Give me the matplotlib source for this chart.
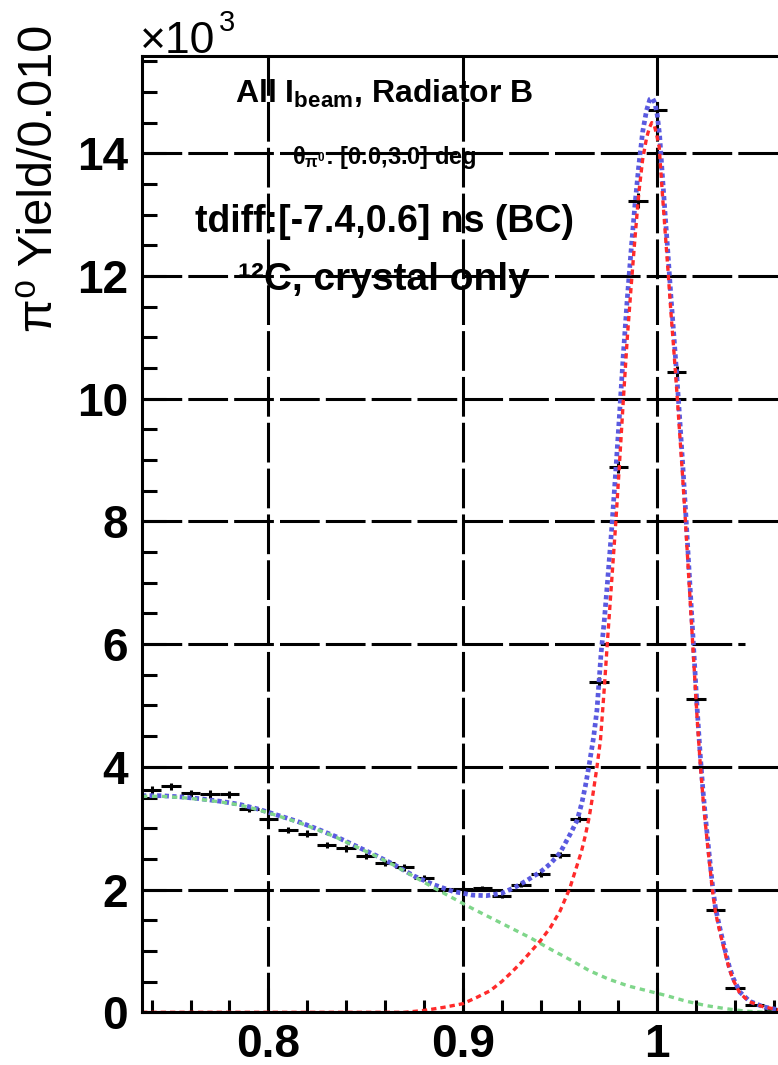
import matplotlib
matplotlib.use("Agg")
import matplotlib.pyplot as plt
from matplotlib.ticker import MultipleLocator

plt.rcParams['font.family'] = ['Liberation Sans', 'DejaVu Sans']
plt.rcParams['mathtext.fontset'] = 'custom'
plt.rcParams['mathtext.rm'] = 'Liberation Sans:bold'
plt.rcParams['mathtext.bf'] = 'Liberation Sans:bold'
plt.rcParams['mathtext.it'] = 'Liberation Sans:bold:italic'
plt.rcParams['mathtext.sf'] = 'Liberation Sans:bold'
plt.rcParams['mathtext.default'] = 'rm'

# ---------------- data (values in units of 10^3) ----------------
bin_centers = [0.74, 0.75, 0.76, 0.77, 0.78, 0.79, 0.80, 0.81, 0.82, 0.83, 0.84,
               0.85, 0.86, 0.87, 0.88, 0.89, 0.90, 0.91, 0.92, 0.93, 0.94, 0.95,
               0.96, 0.97, 0.98, 0.99, 1.00, 1.01, 1.02, 1.03, 1.04, 1.05, 1.06]
yields = [3.62, 3.68, 3.57, 3.56, 3.55, 3.32, 3.15, 2.97, 2.91, 2.73, 2.67,
          2.55, 2.43, 2.36, 2.19, 2.01, 2.01, 2.02, 1.90, 2.08, 2.25, 2.56,
          3.15, 5.39, 8.89, 13.23, 14.70, 10.44, 5.10, 1.66, 0.40, 0.12, 0.05]
yield_err = [0.06, 0.06, 0.06, 0.06, 0.06, 0.06, 0.055, 0.055, 0.055, 0.05, 0.05,
             0.05, 0.05, 0.05, 0.045, 0.045, 0.045, 0.045, 0.045, 0.045, 0.05, 0.05,
             0.055, 0.075, 0.095, 0.115, 0.13, 0.10, 0.07, 0.04, 0.02, 0.01, 0.01]
bin_half_width = 0.005

# background (green)
bkg_x = [0.735, 0.745, 0.755, 0.765, 0.775, 0.785, 0.795, 0.805, 0.815, 0.825,
         0.835, 0.845, 0.855, 0.865, 0.875, 0.885, 0.895, 0.905, 0.915, 0.925,
         0.935, 0.945, 0.955, 0.965, 0.975, 0.985, 0.995, 1.005, 1.015, 1.025,
         1.035, 1.045, 1.055, 1.065]
bkg_y = [3.52, 3.52, 3.50, 3.47, 3.43, 3.38, 3.30, 3.20, 3.10, 2.98,
         2.85, 2.70, 2.55, 2.39, 2.21, 2.03, 1.86, 1.69, 1.53, 1.37,
         1.21, 1.03, 0.86, 0.68, 0.54, 0.43, 0.35, 0.27, 0.18, 0.11,
         0.06, 0.02, 0.00, 0.00]

# signal (red)
sig_x = [0.735, 0.800, 0.870, 0.880, 0.890, 0.900, 0.907, 0.914, 0.920, 0.925,
         0.930, 0.935, 0.940, 0.945, 0.950, 0.955, 0.9585, 0.961, 0.963, 0.965,
         0.967, 0.969, 0.9708, 0.9728, 0.9745, 0.9765, 0.9785, 0.9805, 0.9825, 0.9845,
         0.9865, 0.9885, 0.9905, 0.9925, 0.9945, 0.9960, 0.9972, 0.9985, 0.9997, 1.0010,
         1.0025, 1.0040, 1.0055, 1.0070, 1.0085, 1.0100, 1.0115, 1.0130, 1.0145, 1.0160,
         1.0175, 1.0190, 1.0205, 1.0220, 1.0235, 1.0250, 1.0265, 1.0285, 1.0300, 1.0325,
         1.0350, 1.0370, 1.0390, 1.0425, 1.0475, 1.0545, 1.0625]
sig_y = [0.0, 0.0, 0.0, 0.03, 0.08, 0.14, 0.24, 0.35, 0.50, 0.65,
         0.81, 0.99, 1.17, 1.38, 1.65, 2.02, 2.37, 2.62, 2.88, 3.18,
         3.57, 4.00, 4.44, 5.30, 6.10, 7.00, 7.90, 8.90, 9.95, 10.95,
         11.80, 12.60, 13.35, 13.90, 14.25, 14.42, 14.50, 14.45, 14.30, 14.10,
         13.40, 12.75, 12.10, 11.42, 10.80, 10.15, 9.45, 8.75, 8.00, 7.20,
         6.40, 5.60, 4.80, 4.10, 3.50, 3.00, 2.54, 1.96, 1.62, 1.27,
         0.95, 0.71, 0.53, 0.31, 0.17, 0.09, 0.04]

# total fit (blue)
tot_x = [0.735, 0.745, 0.755, 0.765, 0.775, 0.785, 0.795, 0.805, 0.815, 0.825,
         0.835, 0.845, 0.855, 0.865, 0.875, 0.885, 0.895, 0.905, 0.912, 0.920,
         0.927, 0.933, 0.940, 0.945, 0.950, 0.9555, 0.9588, 0.9612, 0.963, 0.9648,
         0.9673, 0.969, 0.9711, 0.9728, 0.9745, 0.9765, 0.9785, 0.9805, 0.9825, 0.9845,
         0.9865, 0.9885, 0.9905, 0.9925, 0.9945, 0.9962, 0.9975, 0.9988, 1.0000, 1.0012,
         1.0025, 1.0040, 1.0055, 1.0070, 1.0085, 1.0100, 1.0115, 1.0130, 1.0145, 1.0160,
         1.0175, 1.0190, 1.0205, 1.0220, 1.0235, 1.0250, 1.0265, 1.0285, 1.0300, 1.0325,
         1.0350, 1.0370, 1.0390, 1.0425, 1.0475, 1.0545, 1.0625]
tot_y = [3.53, 3.53, 3.51, 3.48, 3.44, 3.39, 3.31, 3.21, 3.11, 2.99,
         2.86, 2.71, 2.56, 2.40, 2.22, 2.08, 1.97, 1.91, 1.90, 1.94,
         2.04, 2.15, 2.29, 2.42, 2.60, 2.92, 3.13, 3.41, 3.68, 4.00,
         4.49, 4.93, 5.85, 6.40, 7.05, 7.85, 8.75, 9.70, 10.70, 11.60,
         12.40, 13.15, 13.80, 14.35, 14.70, 14.88, 14.90, 14.82, 14.62, 14.30,
         13.70, 13.03, 12.37, 11.68, 11.05, 10.40, 9.70, 8.98, 8.22, 7.40,
         6.60, 5.78, 4.96, 4.24, 3.62, 3.11, 2.64, 2.04, 1.69, 1.33,
         1.00, 0.75, 0.56, 0.33, 0.18, 0.09, 0.04]

y_ticks = [0, 2, 4, 6, 8, 10, 12, 14]
y_tick_labels = ['0', '2', '4', '6', '8', '10', '12', '14']
x_ticks = [0.8, 0.9, 1.0]
x_tick_labels = ['0.8', '0.9', '1']

# ---------------- figure ----------------
W, H = 778, 1065
fig = plt.figure(figsize=(W / 100, H / 100), dpi=100)
left_px, right_px, top_px, bottom_px = 142, 778, 56, 1012.3
ax = fig.add_axes([left_px / W, 1 - bottom_px / H,
                   (right_px - left_px) / W, (bottom_px - top_px) / H])
xmin, xmax = 0.735, 1.0621
ymin, ymax = 0.0, 15.585
ax.set_xlim(xmin, xmax)
ax.set_ylim(ymin, ymax)

LW = 2.2
grid_style = dict(color='black', lw=LW, ls=(0, (13, 2)), zorder=1)
for yv in y_ticks[1:]:
    if yv == 6:
        ax.plot([xmin, 1.045], [yv, yv], **grid_style)
    else:
        ax.axhline(yv, **grid_style)
for xv in x_ticks:
    ax.axvline(xv, **grid_style)

# data points
ax.errorbar(bin_centers, yields, xerr=bin_half_width, yerr=yield_err,
            fmt='none', ecolor='black', elinewidth=LW, capsize=0, zorder=3)

# fit curves
ax.plot(tot_x, tot_y, color='#5a5ae0', lw=3.4, ls=(0, (0.9, 0.7)), zorder=4)
ax.plot(bkg_x, bkg_y, color='#7fd68a', lw=2.4, ls=(0, (1.6, 1.4)), zorder=5)
ax.plot(sig_x, sig_y, color='#ff2a2a', lw=2.4, ls=(0, (1.6, 1.2)), zorder=5)

# axes styling
for side in ['left', 'bottom', 'top']:
    ax.spines[side].set_linewidth(LW)
    ax.spines[side].set_zorder(6)
ax.spines['right'].set_visible(False)

ax.set_yticks(y_ticks, labels=y_tick_labels, fontsize=33, fontweight='bold')
ax.set_xticks(x_ticks, labels=x_tick_labels, fontsize=33, fontweight='bold')
ax.yaxis.set_minor_locator(MultipleLocator(0.5))
ax.xaxis.set_minor_locator(MultipleLocator(0.02))
ax.tick_params(axis='y', which='major', direction='in', length=17, width=LW,
               left=True, right=False, pad=10)
ax.tick_params(axis='y', which='minor', direction='in', length=11, width=LW,
               left=True, right=False)
ax.tick_params(axis='x', which='major', direction='in', length=17, width=LW,
               bottom=True, top=False, pad=8)
ax.tick_params(axis='x', which='minor', direction='in', length=8.5, width=LW,
               bottom=True, top=False)

# y-axis title
fig.text(40 / W, 1 - 178 / H, 'π⁰ Yield/0.010', rotation=90, fontsize=35,
         ha='center', va='center', family=['Liberation Sans', 'DejaVu Sans'])

# exponent
fig.text(140 / W, 1 - 53 / H, '×10', fontsize=32, ha='left', va='baseline')
fig.text(219 / W, 1 - 31 / H, '3', fontsize=21, ha='left', va='baseline')

# annotations
cx = 0.8595
def yv_of(py):
    return (bottom_px - py) / (bottom_px - top_px) * ymax

ax.text(cx, yv_of(103), r'All I$_{\rm beam}$, Radiator B', fontsize=23,
        fontweight='bold', ha='center', va='baseline', zorder=7)
ax.text(cx, yv_of(164), r'$\theta_{\pi^{0}}$: [0.0,3.0] deg', fontsize=17,
        fontweight='bold', ha='center', va='baseline', zorder=7)
ax.text(cx, yv_of(232), 'tdiff:[-7.4,0.6] ns (BC)', fontsize=27,
        fontweight='bold', ha='center', va='baseline', zorder=7)
ax.text(cx, yv_of(290), '¹²C, crystal only', fontsize=28,
        fontweight='bold', ha='center', va='baseline', zorder=7,
        family=['Liberation Sans', 'DejaVu Sans'])

fig.savefig('out.png', dpi=100)
